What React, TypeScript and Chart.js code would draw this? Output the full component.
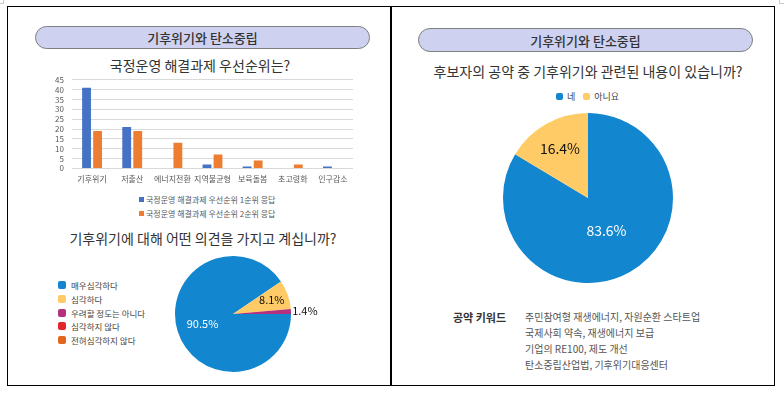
import React, { useEffect, useRef } from "react";
import { Chart, registerables } from "chart.js";
Chart.register(...registerables);

const FONT = '"Noto Sans CJK KR", "Noto Sans", sans-serif';

// ---------- Data ----------
const panelTitle = "기후위기와 탄소중립";

const barTitle = "국정운영 해결과제 우선순위는?";
const barCategories = ["기후위기", "저출산", "에너지전환", "지역불균형", "보육돌봄", "초고령화", "인구감소"];
const firstPriority = [41, 21, 0, 2, 1, 0, 1];
const secondPriority = [19, 19, 13, 7, 4, 2, 0];
const barSeriesLabels = ["국정운영 해결과제 우선순위 1순위 응답", "국정운영 해결과제 우선순위 2순위 응답"];
const barColors = ["#4472C4", "#ED7D31"];
const yMax = 45;
const yStep = 5;

const opinionTitle = "기후위기에 대해 어떤 의견을 가지고 계십니까?";
const opinionLabels = ["매우심각하다", "심각하다", "우려할 정도는 아니다", "심각하지 않다", "전혀심각하지 않다"];
const opinionValues = [90.5, 8.1, 1.4, 0, 0];
const opinionColors = ["#1286CF", "#FFCB66", "#B3307E", "#E3262A", "#E2661C"];
const opinionLabelColors = ["#ffffff", "#111111", "#111111", "#111111", "#111111"];
const opinionLabelRadius = [0.55, 0.71, 1.24, 1, 1];

const pledgeTitle = "후보자의 공약 중 기후위기와 관련된 내용이 있습니까?";
const pledgeLabels = ["네", "아니요"];
const pledgeValues = [83.6, 16.4];
const pledgeColors = ["#1286CF", "#FFCB66"];
const pledgeLabelColors = ["#ffffff", "#111111"];
const pledgeLabelRadius = [0.44, 0.67];

const keywordHeading = "공약 키워드";
const keywordLines = [
  "주민참여형 재생에너지, 자원순환 스타트업",
  "국제사회 약속, 재생에너지 보급",
  "기업의 RE100, 제도 개선",
  "탄소중립산업법, 기후위기대응센터",
];

// ---------- Pie label plugin ----------
const pieLabelPlugin = {
  id: "pieLabels",
  afterDatasetsDraw(chart: any, _args: any, opts: any) {
    const { ctx } = chart;
    const meta = chart.getDatasetMeta(0);
    const data = chart.data.datasets[0].data as number[];
    ctx.save();
    ctx.font = `${opts.fontSize}px ${FONT}`;
    ctx.textAlign = "center";
    ctx.textBaseline = "middle";
    meta.data.forEach((arc: any, i: number) => {
      const v = data[i];
      if (!v) return;
      const p = arc.getProps(["x", "y", "startAngle", "endAngle", "outerRadius"], true);
      const mid = (p.startAngle + p.endAngle) / 2;
      const r = p.outerRadius * opts.radius[i];
      ctx.fillStyle = opts.colors[i];
      ctx.fillText(v.toFixed(1) + "%", p.x + Math.cos(mid) * r, p.y + Math.sin(mid) * r);
    });
    ctx.restore();
  },
};

function BarChart() {
  const ref = useRef<HTMLCanvasElement>(null);
  useEffect(() => {
    const chart = new Chart(ref.current!, {
      type: "bar",
      data: {
        labels: barCategories,
        datasets: [
          { label: barSeriesLabels[0], data: firstPriority, backgroundColor: barColors[0] },
          { label: barSeriesLabels[1], data: secondPriority, backgroundColor: barColors[1] },
        ],
      },
      options: {
        responsive: false,
        animation: false,
        layout: { padding: { top: 0, right: 7, left: 0, bottom: 0 } },
        datasets: { bar: { categoryPercentage: 0.55, barPercentage: 0.8 } },
        plugins: { legend: { display: false }, tooltip: { enabled: false } },
        scales: {
          x: {
            grid: { display: false, drawTicks: false },
            border: { display: false },
            ticks: { font: { family: FONT, size: 8 }, color: "#595959", maxRotation: 0, autoSkip: false, padding: 6 },
          },
          y: {
            min: 0,
            max: yMax,
            afterFit: (s: any) => { s.width = 32; },
            grid: { color: "#d9d9d9", drawTicks: false },
            border: { display: false },
            ticks: { stepSize: yStep, autoSkip: false, font: { family: FONT, size: 8 }, color: "#595959", padding: 8 },
          },
        },
      },
    });
    return () => chart.destroy();
  }, []);
  return <canvas ref={ref} width={320} height={123} style={{ position: "absolute", left: 40, top: 67, width: 320, height: 123 }} />;
}

function PieChart(props: { labels: string[]; values: number[]; colors: string[]; labelColors: string[]; labelRadius: number[]; fontSize: number; left: number; top: number; width: number; height: number; padX: number; padY: number; rotation: number }) {
  const ref = useRef<HTMLCanvasElement>(null);
  useEffect(() => {
    const chart = new Chart(ref.current!, {
      type: "pie",
      data: {
        labels: props.labels,
        datasets: [{ data: props.values, backgroundColor: props.colors, borderWidth: 0 }],
      },
      options: {
        responsive: false,
        animation: false,
        rotation: props.rotation,
        layout: { padding: { left: props.padX, right: props.padX, top: props.padY, bottom: props.padY } },
        plugins: {
          legend: { display: false },
          tooltip: { enabled: false },
          pieLabels: { colors: props.labelColors, radius: props.labelRadius, fontSize: props.fontSize },
        } as any,
      },
      plugins: [pieLabelPlugin],
    });
    return () => chart.destroy();
  }, []);
  return (
    <canvas
      ref={ref}
      width={props.width}
      height={props.height}
      style={{ position: "absolute", left: props.left, top: props.top, width: props.width, height: props.height }}
    />
  );
}

function Pill(props: { left: number; top: number; width: number; height: number; text: string }) {
  return (
    <div
      style={{
        position: "absolute",
        left: props.left,
        top: props.top,
        width: props.width,
        height: props.height,
        boxSizing: "border-box",
        border: "1px solid #7f7f7f",
        borderRadius: props.height / 2,
        background: "#CED2F0",
        display: "flex",
        alignItems: "center",
        justifyContent: "center",
        fontSize: 13,
        fontWeight: 500,
        color: "#333",
      }}
    >
      {props.text}
    </div>
  );
}

function Title(props: { cx: number; top: number; text: string; size?: number }) {
  return (
    <div
      style={{
        position: "absolute",
        left: props.cx - 200,
        width: 400,
        top: props.top,
        textAlign: "center",
        fontSize: props.size ?? 14,
        color: "#333",
        whiteSpace: "nowrap",
        lineHeight: "18px",
      }}
    >
      {props.text}
    </div>
  );
}

export default function App() {
  return (
    <div style={{ position: "absolute", left: 0, top: 0, width: 784, height: 393, background: "#fff", fontFamily: FONT, overflow: "hidden" }}>
      {/* corner marks */}
      <div style={{ position: "absolute", left: 0, top: 0, width: 3, height: 3, borderRight: "1px solid #c8c8c8", borderBottom: "1px solid #c8c8c8" }} />
      <div style={{ position: "absolute", left: 779, top: 0, width: 4, height: 3, borderLeft: "1px solid #c8c8c8", borderBottom: "1px solid #c8c8c8" }} />
      {/* frame */}
      <div style={{ position: "absolute", left: 7, top: 6, width: 768, height: 380, boxSizing: "border-box", border: "1.5px solid #000" }} />
      <div style={{ position: "absolute", left: 390, top: 6, width: 1.5, height: 380, background: "#000" }} />

      {/* left panel */}
      <Pill left={35} top={26} width={335} height={23} text={panelTitle} />
      <Title cx={200} top={56} text={barTitle} />
      <BarChart />
      {barSeriesLabels.map((t, i) => (
        <div key={t} style={{ position: "absolute", left: 139, top: 193 + i * 14, height: 12, display: "flex", alignItems: "center", fontSize: 8, color: "#595959", whiteSpace: "nowrap" }}>
          <span style={{ display: "inline-block", width: 5, height: 5, background: barColors[i], marginRight: 2 }} />
          {t}
        </div>
      ))}
      <Title cx={203} top={229} text={opinionTitle} />
      {opinionLabels.map((t, i) => (
        <div key={t} style={{ position: "absolute", left: 58, top: 279 + i * 13.8, height: 12, display: "flex", alignItems: "center", fontSize: 8.5, color: "#444", whiteSpace: "nowrap" }}>
          <span style={{ display: "inline-block", width: 8, height: 8, borderRadius: 2, background: opinionColors[i], marginRight: 5 }} />
          {t}
        </div>
      ))}
      <PieChart
        labels={opinionLabels}
        values={opinionValues}
        colors={opinionColors}
        labelColors={opinionLabelColors}
        labelRadius={opinionLabelRadius}
        fontSize={11}
        left={143}
        top={246}
        width={180}
        height={136}
        padX={32}
        padY={10}
        rotation={90}
      />

      {/* right panel */}
      <Pill left={418} top={28} width={335} height={24} text={panelTitle} />
      <Title cx={588} top={62} text={pledgeTitle} />
      <div style={{ position: "absolute", left: 556, top: 90, height: 12, display: "flex", alignItems: "center", fontSize: 9, color: "#444", whiteSpace: "nowrap" }}>
        {pledgeLabels.map((t, i) => (
          <span key={t} style={{ display: "inline-flex", alignItems: "center", marginRight: 8 }}>
            <span style={{ display: "inline-block", width: 7, height: 7, borderRadius: 2, background: pledgeColors[i], marginRight: 4 }} />
            {t}
          </span>
        ))}
      </div>
      <PieChart
        labels={pledgeLabels}
        values={pledgeValues}
        colors={pledgeColors}
        labelColors={pledgeLabelColors}
        labelRadius={pledgeLabelRadius}
        fontSize={14}
        left={488}
        top={103}
        width={200}
        height={190}
        padX={15}
        padY={10}
        rotation={0}
      />
      <div style={{ position: "absolute", left: 453, top: 309, fontSize: 11, fontWeight: 700, color: "#333", whiteSpace: "nowrap", lineHeight: "16px" }}>{keywordHeading}</div>
      {keywordLines.map((t, i) => (
        <div key={t} style={{ position: "absolute", left: 525, top: 309 + i * 16, fontSize: 10, color: "#555", whiteSpace: "nowrap", lineHeight: "16px" }}>{t}</div>
      ))}
    </div>
  );
}
